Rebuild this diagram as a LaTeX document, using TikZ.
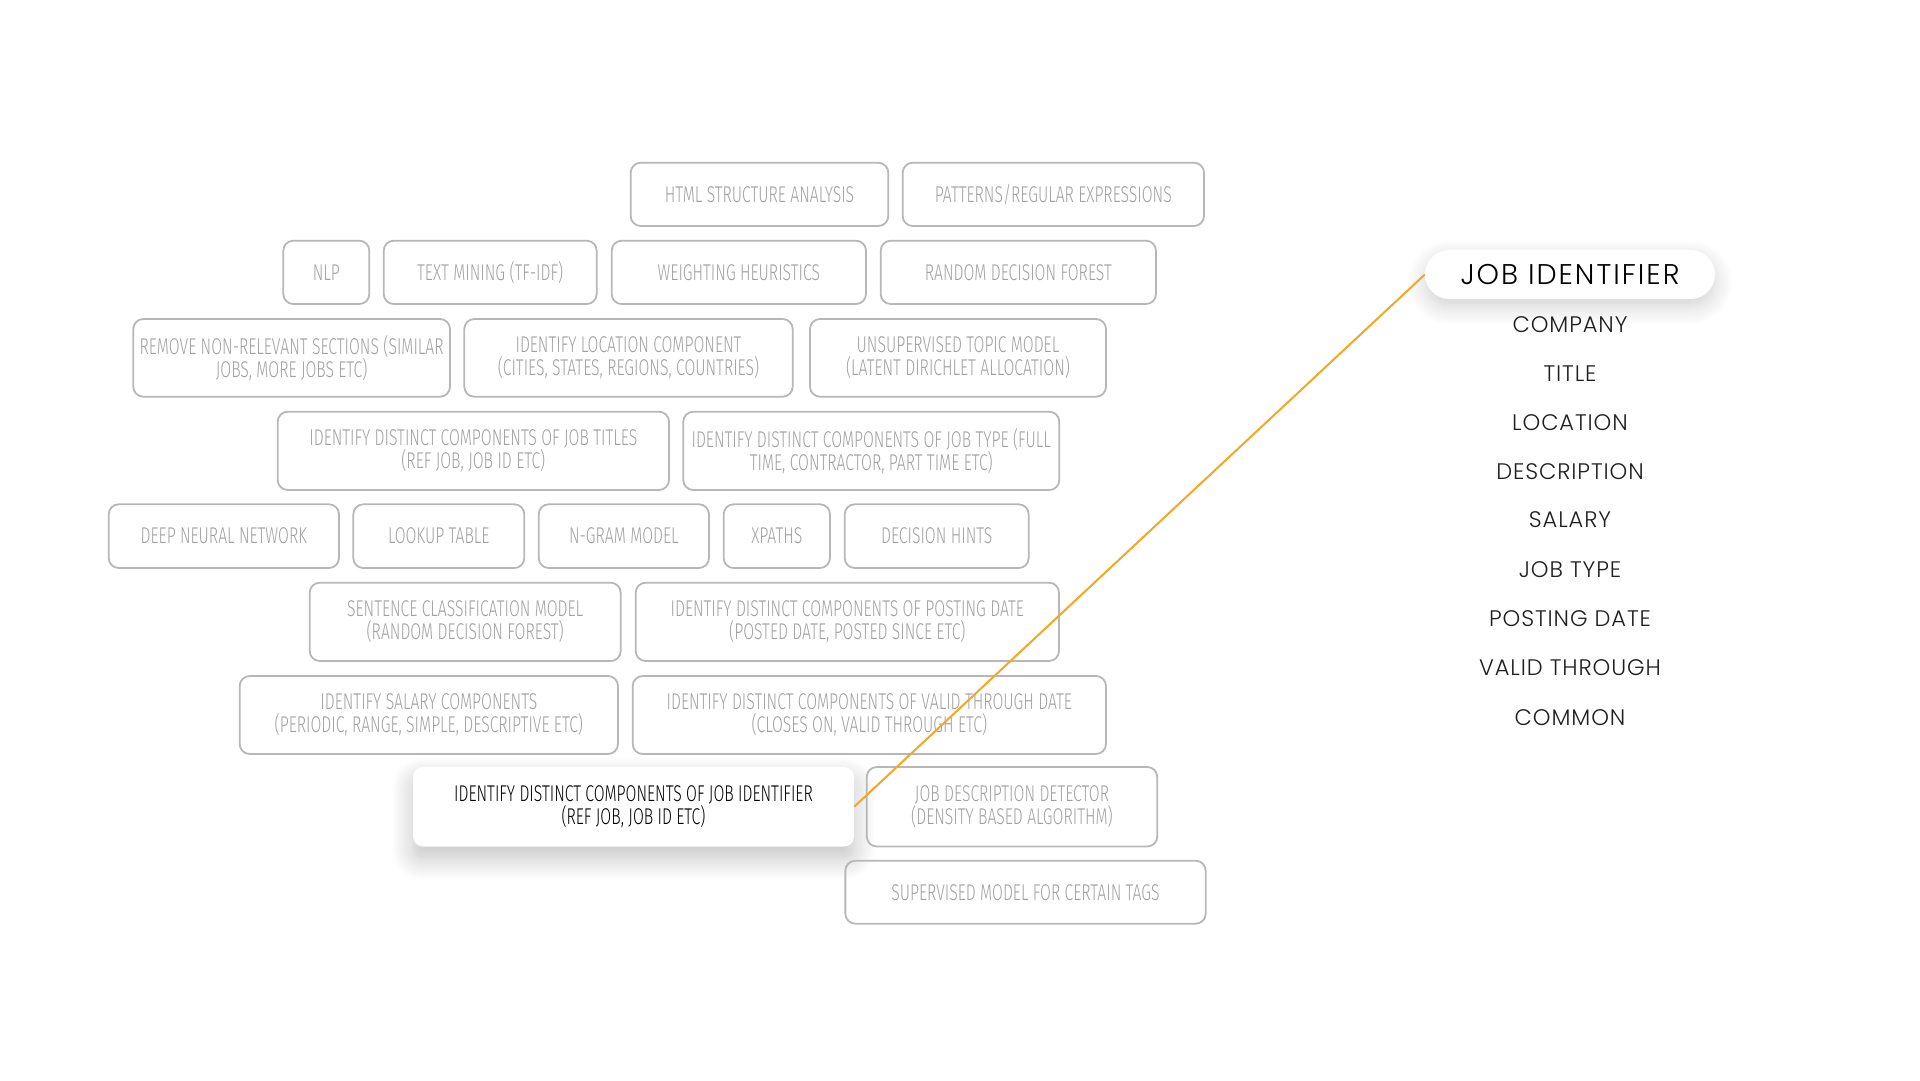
\documentclass[tikz,border=0pt]{standalone}
\usepackage{fontspec}
\usepackage{tikz}
\usetikzlibrary{positioning, shadows.blur}
\newfontfamily\boxfont{Fira Sans Light}[FakeStretch=0.69]
\newfontfamily\listfont{Poppins Light}[LetterSpace=4]
\newfontfamily\pillfont{Poppins Light}[LetterSpace=7]
\definecolor{tagline}{RGB}{183,183,183}
\definecolor{tagtext}{RGB}{160,160,160}
\definecolor{linkorange}{RGB}{245,166,35}

\begin{document}
\begin{tikzpicture}[x=1pt,y=1pt,yscale=-1,
	tagbox/.style={draw=tagline, line width=1.8pt, rounded corners=10pt, inner sep=0pt, align=center, text=tagtext, font=\boxfont\fontsize{22.8}{23}\selectfont},
	activebox/.style={fill=white, rounded corners=10pt, inner sep=0pt, align=center, text=black, font=\boxfont\fontsize{22.8}{23}\selectfont, blur shadow={shadow xshift=0pt, shadow yshift=-12pt, shadow blur radius=22pt, shadow opacity=24, shadow blur steps=14}},
	fieldpill/.style={fill=white, rounded corners=24.5pt, inner sep=0pt, text=black, font=\pillfont\fontsize{28.5}{30}\selectfont, blur shadow={shadow xshift=0pt, shadow yshift=-8pt, shadow blur radius=18pt, shadow opacity=18, shadow blur steps=12}},
	fieldname/.style={inner sep=0pt, text={rgb,255:red,30;green,30;blue,30}, font=\listfont\fontsize{22.5}{24}\selectfont}]
	\useasboundingbox (0,0) rectangle (1920,1080);

	% Row 1
	\node (html) [tagbox, minimum width=257.6pt, minimum height=63.3pt] at (759.5,194.35) {HTML STRUCTURE ANALYSIS};
	\node (patterns) [tagbox, minimum width=301.3pt, minimum height=63.3pt] at (1053.35,194.35) {PATTERNS/REGULAR EXPRESSIONS};
	% Row 2
	\node (nlp) [tagbox, minimum width=86pt, minimum height=63.3pt] at (326.3,272.35) {NLP};
	\node (tfidf) [tagbox, minimum width=213pt, minimum height=63.3pt] at (490.2,272.35) {TEXT MINING (TF-IDF)};
	\node (weighting) [tagbox, minimum width=254.3pt, minimum height=63.3pt] at (738.85,272.35) {WEIGHTING HEURISTICS};
	\node (forest) [tagbox, minimum width=275.3pt, minimum height=63.3pt] at (1018.35,272.35) {RANDOM DECISION FOREST};
	% Row 3
	\node (remove) [tagbox, minimum width=316.7pt, minimum height=77.7pt] at (291.65,357.85) {REMOVE NON-RELEVANT SECTIONS (SIMILAR\\JOBS, MORE JOBS ETC)};
	\node (location) [tagbox, minimum width=328.4pt, minimum height=77.7pt] at (628.5,357.85) {IDENTIFY LOCATION COMPONENT\\(CITIES, STATES, REGIONS, COUNTRIES)};
	\node (topic) [tagbox, minimum width=296pt, minimum height=77.7pt] at (958,357.85) {UNSUPERVISED TOPIC MODEL\\(LATENT DIRICHLET ALLOCATION)};
	% Row 4
	\node (titles) [tagbox, minimum width=391.3pt, minimum height=78.3pt] at (473.35,450.85) {IDENTIFY DISTINCT COMPONENTS OF JOB TITLES\\(REF JOB, JOB ID ETC)};
	\node (jobtype) [tagbox, minimum width=376pt, minimum height=78.3pt] at (871.3,450.85) {IDENTIFY DISTINCT COMPONENTS OF JOB TYPE (FULL\\TIME, CONTRACTOR, PART TIME ETC)};
	% Row 5
	\node (deepnet) [tagbox, minimum width=230.3pt, minimum height=63.7pt] at (223.85,536.15) {DEEP NEURAL NETWORK};
	\node (lookup) [tagbox, minimum width=171pt, minimum height=63.7pt] at (438.8,536.15) {LOOKUP TABLE};
	\node (ngram) [tagbox, minimum width=170.3pt, minimum height=63.7pt] at (623.85,536.15) {N-GRAM MODEL};
	\node (xpaths) [tagbox, minimum width=106.3pt, minimum height=63.7pt] at (776.85,536.15) {XPATHS};
	\node (hints) [tagbox, minimum width=184pt, minimum height=63.7pt] at (936.7,536.15) {DECISION HINTS};
	% Row 6
	\node (sentence) [tagbox, minimum width=311pt, minimum height=78.3pt] at (465.2,621.85) {SENTENCE CLASSIFICATION MODEL\\(RANDOM DECISION FOREST)};
	\node (posting) [tagbox, minimum width=423.3pt, minimum height=78.3pt] at (847.35,621.85) {IDENTIFY DISTINCT COMPONENTS OF POSTING DATE\\(POSTED DATE, POSTED SINCE ETC)};
	% Row 7
	\node (salary) [tagbox, minimum width=378.3pt, minimum height=78pt] at (428.85,715) {IDENTIFY SALARY COMPONENTS\\(PERIODIC, RANGE, SIMPLE, DESCRIPTIVE ETC)};
	\node (validthru) [tagbox, minimum width=473.3pt, minimum height=78pt] at (869.35,715) {IDENTIFY DISTINCT COMPONENTS OF VALID THROUGH DATE\\(CLOSES ON, VALID THROUGH ETC)};
	% Row 8
	\node (jobid) [activebox, minimum width=441pt, minimum height=79.5pt] at (633.5,806.75) {IDENTIFY DISTINCT COMPONENTS OF JOB IDENTIFIER\\(REF JOB, JOB ID ETC)};
	\node (detector) [tagbox, minimum width=290.5pt, minimum height=79.5pt] at (1012,806.75) {JOB DESCRIPTION DETECTOR\\(DENSITY BASED ALGORITHM)};
	% Row 9
	\node (supervised) [tagbox, minimum width=360.3pt, minimum height=63pt] at (1025.5,892.2) {SUPERVISED MODEL FOR CERTAIN TAGS};

	% Field list
	\node (pill) [fieldpill, minimum width=290pt, minimum height=49pt] at (1570,274.5) {JOB IDENTIFIER};
	\node (company) [fieldname] at (1570,324.3) {COMPANY};
	\node (title) [fieldname] at (1570,373.3) {TITLE};
	\node (locationf) [fieldname] at (1570,422.3) {LOCATION};
	\node (description) [fieldname] at (1570,471.3) {DESCRIPTION};
	\node (salaryf) [fieldname] at (1570,520) {SALARY};
	\node (jobtypef) [fieldname] at (1570,570) {JOB TYPE};
	\node (postingf) [fieldname] at (1570,619) {POSTING DATE};
	\node (validf) [fieldname] at (1570,667.7) {VALID THROUGH};
	\node (common) [fieldname] at (1570,717.3) {COMMON};

	% Link
	\draw [linkorange, line width=2pt] (jobid.east) -- (pill.west);
\end{tikzpicture}
\end{document}
